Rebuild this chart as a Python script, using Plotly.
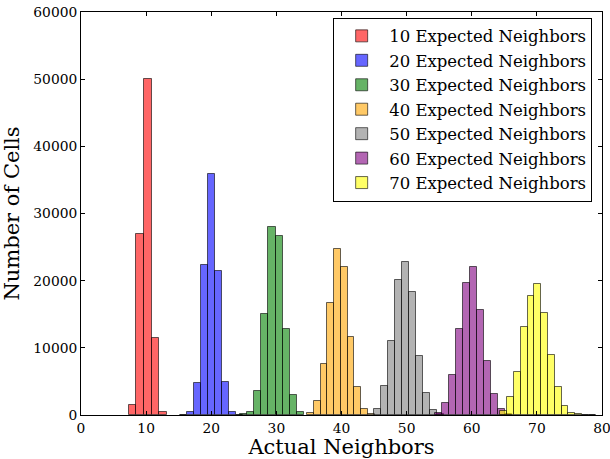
import numpy as np
import plotly.graph_objects as go

# ---- data ----
series_labels = ["10 Expected Neighbors", "20 Expected Neighbors", "30 Expected Neighbors",
                 "40 Expected Neighbors", "50 Expected Neighbors", "60 Expected Neighbors",
                 "70 Expected Neighbors"]
bin_starts = [7.31, 15.2, 24.4, 34.70, 44.93, 54.40, 64.38]
bin_widths = [1.177, 1.075, 1.094, 1.041, 1.081, 1.075, 1.047]
counts_10 = [1490, 26900, 50020, 11420, 400]
counts_20 = [60, 400, 4810, 22330, 35830, 21440, 4910, 490, 30]
counts_30 = [80, 500, 3620, 14990, 28040, 26650, 12800, 2930, 400]
counts_40 = [350, 2080, 7640, 16630, 24710, 21990, 11610, 4120, 940, 120]
counts_50 = [940, 4320, 10970, 20100, 22730, 18270, 8740, 3280, 700, 100]
counts_60 = [350, 1830, 5960, 12800, 19700, 21990, 15590, 7990, 3080, 850, 150]
counts_70 = [640, 2730, 6350, 13060, 17720, 19550, 15230, 8890, 4170, 1390, 350, 80, 30, 10]
all_counts = [counts_10, counts_20, counts_30, counts_40, counts_50, counts_60, counts_70]
colors = ["rgba(255,0,0,0.6)", "rgba(0,0,255,0.6)", "rgba(0,128,0,0.6)",
          "rgba(255,165,0,0.6)", "rgba(128,128,128,0.6)", "rgba(128,0,128,0.6)",
          "rgba(255,255,0,0.6)"]
x_ticks = [0, 10, 20, 30, 40, 50, 60, 70, 80]
y_ticks = [0, 10000, 20000, 30000, 40000, 50000, 60000]

FONT = "DejaVu Serif"

fig = go.Figure()
for i, (lab, start, w, cnt, col) in enumerate(zip(series_labels, bin_starts, bin_widths, all_counts, colors)):
    n = len(cnt)
    centers = start + w * (np.arange(n) + 0.5)
    fig.add_trace(go.Bar(
        x=centers, y=cnt, width=[w] * n, name=lab, legendgroup=f"g{i}",
        marker=dict(color=col, line=dict(color="rgba(0,0,0,0.6)", width=1)),
    ))

axis_common = dict(showline=True, linecolor="black", linewidth=1, mirror="allticks",
                   ticks="inside", ticklen=4, tickcolor="black", showgrid=False, zeroline=False,
                   automargin=False, ticklabeloverflow="allow",
                   tickfont=dict(family=FONT, size=13.8, color="black"))

fig.update_layout(
    width=610, height=459,
    margin=dict(l=81, r=8, t=12, b=44),
    paper_bgcolor="white", plot_bgcolor="white",
    barmode="overlay", bargap=0,
    font=dict(family=FONT, color="black"),
    xaxis=dict(range=[0, 80], tickvals=x_ticks,
               title=dict(text="Actual Neighbors", font=dict(family=FONT, size=21), standoff=4),
               **axis_common),
    yaxis=dict(range=[0, 60000], tickvals=y_ticks, tickformat="d",
               title=dict(text="Number of Cells", font=dict(family=FONT, size=21), standoff=8),
               **axis_common),
    legend=dict(x=0.484, xanchor="left", y=0.986, yanchor="top",
                bordercolor="black", borderwidth=1, bgcolor="white",
                font=dict(family=FONT, size=16.5), tracegroupgap=2.8,
                itemwidth=45, traceorder="normal"),
    showlegend=True,
)

fig.write_html("out.html")
